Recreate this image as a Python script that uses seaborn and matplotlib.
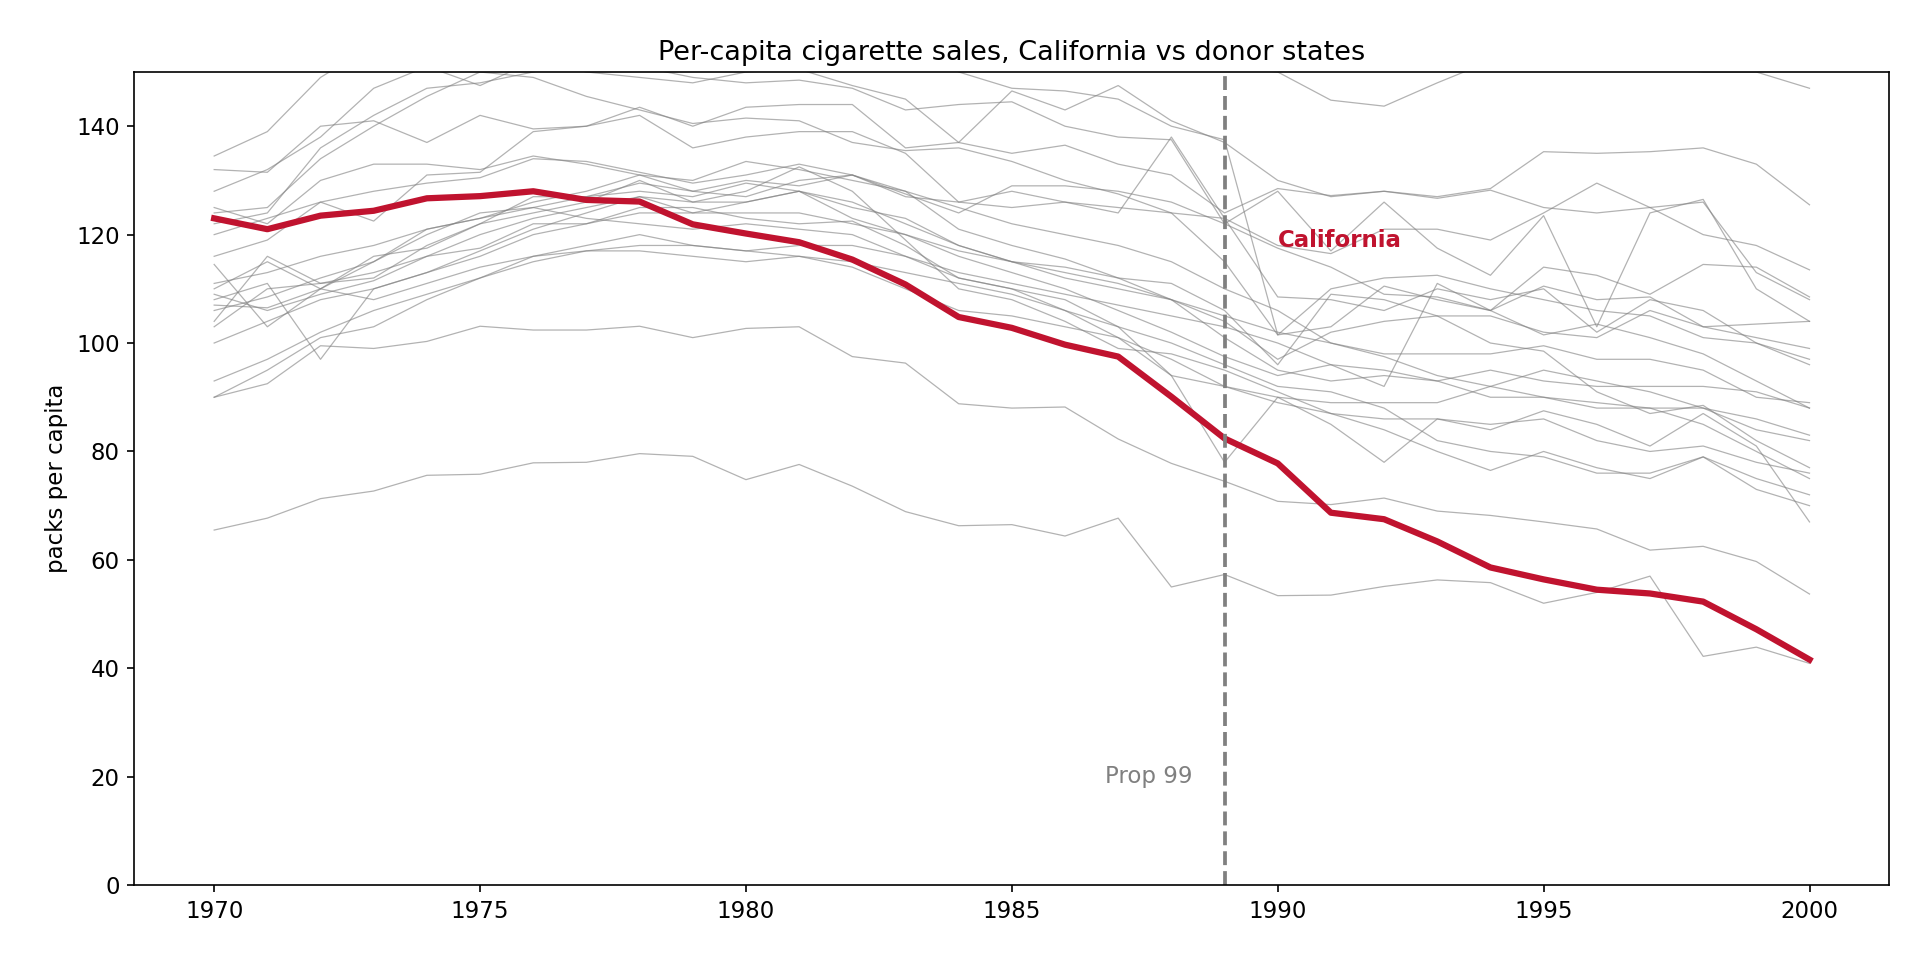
import numpy as np
import pandas as pd
import matplotlib
matplotlib.use("Agg")
import matplotlib.pyplot as plt
import seaborn as sns

years = list(range(1970, 2001))

california = [123.0, 121.0, 123.5, 124.4, 126.7, 127.1, 128.0, 126.4, 126.1, 121.9,
              120.2, 118.6, 115.4, 110.8, 104.8, 102.8, 99.7, 97.5, 90.1, 82.4,
              77.8, 68.7, 67.5, 63.4, 58.6, 56.4, 54.5, 53.8, 52.3, 47.2, 41.6]

# donor states, values (approximate)
donors = {
    "d01": [65.5, 67.7, 71.3, 72.7, 75.6, 75.8, 77.9, 78.0, 79.6, 79.1, 74.8, 77.6, 73.6, 68.9, 66.3, 66.5,
            64.4, 67.7, 55.0, 57.3, 53.4, 53.5, 55.1, 56.3, 55.8, 52.0, 54.0, 57.0, 42.2, 43.9, 40.9],
    "d02": [90.0, 92.5, 99.5, 99.0, 100.3, 103.1, 102.4, 102.4, 103.1, 101.0, 102.7, 103.0, 97.5, 96.3, 88.8, 88.0,
            88.2, 82.3, 77.8, 74.5, 70.8, 70.2, 71.4, 69.0, 68.2, 67.0, 65.7, 61.8, 62.5, 59.7, 53.7],
    "d03": [134.5, 139.0, 149.0, 155.0, 160.0, 162.0, 165.0, 168.0, 170.0, 165.0, 162.0, 160.0, 158.0, 155.0, 150.0, 147.0,
            146.5, 145.0, 140.0, 137.5, 101.5, 110.0, 112.0, 112.5, 110.0, 108.0, 106.0, 105.0, 101.0, 100.0, 96.0],
    "d04": [128.0, 132.0, 138.0, 147.0, 151.0, 147.5, 152.0, 150.0, 149.0, 148.0, 150.0, 150.5, 147.5, 145.0, 137.0, 146.5,
            143.0, 147.5, 141.0, 137.0, 130.0, 127.0, 128.0, 127.0, 128.5, 135.3, 135.0, 135.3, 136.0, 133.0, 125.5],
    "d05": [160.0, 162.0, 165.0, 166.0, 168.0, 170.0, 170.0, 168.0, 165.0, 163.0, 162.0, 160.0, 158.0, 156.0, 155.0, 154.0,
            153.0, 152.0, 151.0, 151.0, 150.0, 144.8, 143.7, 148.0, 152.0, 153.0, 152.0, 151.0, 150.0, 150.0, 147.0],
    "d06": [132.0, 131.5, 140.0, 141.0, 137.0, 142.0, 139.5, 140.0, 143.5, 140.0, 143.5, 144.0, 144.0, 136.0, 137.0, 135.0,
            136.5, 133.0, 131.0, 124.0, 128.5, 127.2, 128.0, 126.7, 128.2, 125.0, 124.0, 125.0, 126.0, 113.0, 108.0],
    "d07": [124.0, 125.0, 134.0, 140.0, 145.5, 150.0, 149.0, 145.5, 143.0, 140.5, 141.5, 141.0, 137.0, 135.5, 136.0, 133.5,
            130.0, 127.5, 124.0, 123.0, 118.0, 116.5, 121.0, 121.0, 119.0, 124.0, 129.5, 125.0, 120.0, 118.0, 113.5],
    "d08": [122.0, 124.0, 136.0, 142.0, 147.0, 148.0, 150.0, 152.0, 151.0, 149.0, 148.0, 148.5, 147.0, 143.0, 144.0, 144.5,
            140.0, 138.0, 137.5, 122.0, 128.0, 117.0, 126.0, 117.5, 112.5, 123.5, 103.0, 124.0, 126.5, 110.0, 104.0],
    "d09": [120.0, 123.0, 126.0, 128.0, 129.5, 130.5, 134.0, 133.5, 131.5, 129.5, 131.0, 133.0, 131.0, 127.5, 124.0, 129.0,
            129.0, 128.0, 126.0, 122.0, 117.5, 114.0, 109.0, 108.5, 106.0, 114.0, 112.5, 109.0, 114.5, 114.0, 108.5],
    "d10": [116.0, 119.0, 126.0, 122.5, 131.0, 131.5, 139.0, 140.0, 142.0, 136.0, 138.0, 139.0, 139.0, 135.0, 126.0, 128.0,
            126.0, 125.0, 124.0, 115.0, 101.5, 103.0, 110.5, 108.0, 106.0, 101.5, 103.5, 101.0, 98.0, 93.0, 88.0],
    "d11": [114.5, 103.0, 110.0, 116.0, 117.5, 122.0, 124.0, 126.0, 130.0, 126.0, 128.0, 132.5, 128.0, 119.0, 110.0, 108.0,
            104.0, 99.0, 98.0, 95.0, 91.0, 87.0, 84.0, 80.0, 76.5, 80.0, 77.0, 75.0, 79.0, 73.0, 70.0],
    "d12": [108.0, 111.0, 97.0, 110.0, 113.0, 117.0, 121.0, 124.0, 127.0, 124.0, 126.0, 128.0, 123.0, 120.0, 116.0, 113.0,
            110.0, 106.0, 102.0, 97.5, 94.0, 96.0, 92.0, 111.0, 106.0, 110.5, 108.0, 108.5, 103.0, 103.5, 104.0],
    "d13": [110.0, 115.0, 110.0, 108.0, 111.0, 114.0, 116.0, 117.0, 117.0, 116.0, 115.0, 116.0, 114.0, 110.0, 106.0, 105.0,
            103.0, 101.0, 97.0, 92.0, 89.0, 87.0, 86.0, 86.0, 85.0, 86.0, 82.0, 80.0, 81.0, 78.0, 76.0],
    "d14": [104.0, 116.0, 111.0, 112.0, 118.0, 122.0, 127.0, 127.0, 129.5, 128.0, 127.0, 130.0, 131.0, 128.0, 121.0, 118.0,
            115.5, 112.0, 108.0, 104.0, 97.0, 102.0, 104.0, 105.0, 100.0, 98.5, 91.0, 87.0, 88.5, 82.0, 77.0],
    "d15": [93.0, 97.0, 102.0, 106.0, 109.0, 112.0, 115.0, 117.0, 118.0, 118.0, 117.0, 118.0, 118.0, 116.0, 113.0, 111.0,
            109.0, 107.0, 105.0, 103.0, 100.0, 96.0, 95.0, 93.0, 95.0, 93.0, 92.0, 92.0, 92.0, 91.0, 88.0],
    "d16": [100.0, 104.0, 108.0, 110.0, 113.0, 116.0, 120.0, 122.0, 124.0, 124.0, 124.0, 124.0, 122.0, 120.0, 117.0, 115.0,
            113.0, 111.0, 108.0, 105.0, 102.0, 100.0, 97.5, 94.0, 92.0, 90.0, 89.0, 88.0, 85.0, 80.0, 75.0],
    "d17": [107.0, 106.5, 110.0, 115.0, 121.0, 123.0, 125.0, 127.0, 128.0, 127.0, 129.5, 128.0, 125.0, 123.0, 118.0, 115.0,
            112.0, 110.0, 108.0, 101.0, 95.0, 93.0, 94.0, 93.0, 90.0, 90.0, 88.0, 88.0, 88.0, 86.0, 83.0],
    "d18": [106.0, 108.5, 112.0, 115.0, 120.0, 124.0, 125.0, 123.0, 122.0, 121.0, 122.0, 121.0, 120.0, 116.0, 112.0, 110.0,
            108.0, 103.0, 94.0, 92.0, 90.0, 89.0, 89.0, 89.0, 92.0, 95.0, 93.0, 91.0, 88.0, 84.0, 82.0],
    "d19": [90.0, 95.0, 101.0, 103.0, 108.0, 112.0, 116.0, 118.0, 120.0, 118.0, 117.0, 116.0, 115.0, 113.0, 111.0, 109.0,
            106.0, 103.0, 100.0, 96.0, 92.0, 91.0, 88.0, 82.0, 80.0, 79.0, 76.0, 76.0, 79.0, 75.0, 72.0],
    "d20": [109.0, 106.0, 109.0, 111.5, 116.0, 117.5, 122.0, 122.0, 125.0, 125.0, 123.0, 122.0, 122.5, 118.0, 112.0, 110.0,
            106.0, 101.0, 94.0, 78.0, 90.0, 85.0, 78.0, 86.0, 84.0, 87.5, 85.0, 81.0, 87.0, 81.0, 67.0],
    "d21": [111.0, 113.0, 116.0, 118.0, 121.0, 123.0, 126.0, 128.0, 131.0, 130.0, 133.5, 132.0, 130.0, 128.0, 125.0, 122.0,
            120.0, 118.0, 115.0, 110.0, 106.0, 100.0, 98.0, 98.0, 98.0, 99.5, 97.0, 97.0, 95.0, 90.0, 89.0],
    "d22": [125.0, 122.0, 130.0, 133.0, 133.0, 132.0, 134.5, 133.0, 131.0, 128.0, 130.0, 129.0, 131.0, 127.0, 126.0, 125.0,
            126.0, 124.0, 138.0, 123.0, 108.5, 108.0, 106.0, 110.0, 108.0, 110.0, 102.0, 108.0, 106.0, 100.0, 97.0],
    "d23": [103.0, 110.0, 111.0, 113.0, 116.0, 120.0, 123.0, 125.0, 127.0, 126.0, 126.0, 128.0, 126.0, 122.0, 118.0, 115.0,
            114.0, 112.0, 111.0, 106.0, 96.0, 109.0, 108.0, 105.0, 105.0, 102.0, 101.0, 106.0, 103.0, 101.0, 99.0],
}

rows = [(y, v, "California") for y, v in zip(years, california)]
for name, vals in donors.items():
    rows += [(y, v, name) for y, v in zip(years, vals)]
df = pd.DataFrame(rows, columns=["year", "cigsale", "state"])

plt.style.use("default")
fig, ax = plt.subplots(figsize=(12.8, 6.4), dpi=150)

donor_df = df[df["state"] != "California"]
sns.lineplot(data=donor_df, x="year", y="cigsale", units="state", estimator=None,
             color="gray", linewidth=0.6, alpha=0.6, ax=ax)
sns.lineplot(data=df[df["state"] == "California"], x="year", y="cigsale",
             color="#c0132f", linewidth=3, ax=ax)

ax.axvline(1989, color="gray", linestyle="--", linewidth=1.8)
ax.text(1988.4, 20, "Prop 99", color="gray", ha="right", va="center", fontsize=11)
ax.text(1990, 119, "California", color="#c0132f", fontweight="bold", fontsize=11, va="center")

ax.set_ylim(0, 150)
ax.set_xlim(1968.5, 2001.5)
ax.set_xlabel("")
ax.set_ylabel("packs per capita", fontsize=11)
ax.tick_params(labelsize=11)
ax.set_title("Per-capita cigarette sales, California vs donor states", fontsize=13)
fig.subplots_adjust(left=0.07, right=0.984, top=0.925, bottom=0.078)
fig.savefig("out.png")
